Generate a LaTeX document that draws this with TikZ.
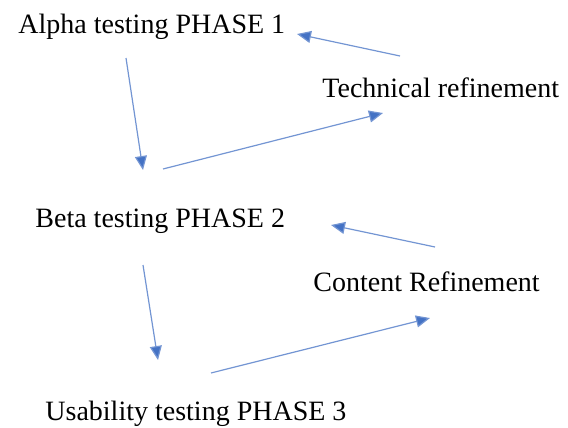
\documentclass[tikz,border=0pt]{standalone}
\usepackage{fontspec}
\setmainfont{Liberation Serif}
\usetikzlibrary{arrows.meta}
\definecolor{linkblue}{RGB}{68,114,196}
\tikzstyle{phase} = [inner sep=0pt, anchor=base west, font=\fontsize{14pt}{16pt}\selectfont]
\tikzstyle{link} = [draw=linkblue!75, line width=0.6pt, ->]

\begin{document}
\begin{tikzpicture}[x=0.5pt,y=-0.5pt,>={Triangle[length=7pt,width=6pt,fill=linkblue]}]
    \useasboundingbox (0,0) rectangle (568,428);
    % texts
    \node [phase] (alpha) at (18,33) {Alpha testing PHASE 1};
    \node [phase] (tech) at (322,97) {Technical refinement};
    \node [phase] (beta) at (35,227) {Beta testing PHASE 2};
    \node [phase] (content) at (313,291) {Content Refinement};
    \node [phase] (usab) at (45,420) {Usability testing PHASE 3};
    % arrow ends
    \coordinate (techout) at (400,56);
    \coordinate (alphain) at (297,34);
    \coordinate (alphaout) at (126,58);
    \coordinate (betain) at (143,170);
    \coordinate (betaup) at (163,169);
    \coordinate (techin) at (383,113);
    \coordinate (contentout) at (435,247);
    \coordinate (betain2) at (331,225);
    \coordinate (betaout) at (143,265);
    \coordinate (usabin) at (158,360);
    \coordinate (usabout) at (211,373);
    \coordinate (contentin) at (430,318);
    \draw [link] (techout) -- (alphain);
    \draw [link] (alphaout) -- (betain);
    \draw [link] (betaup) -- (techin);
    \draw [link] (contentout) -- (betain2);
    \draw [link] (betaout) -- (usabin);
    \draw [link] (usabout) -- (contentin);
\end{tikzpicture}
\end{document}
